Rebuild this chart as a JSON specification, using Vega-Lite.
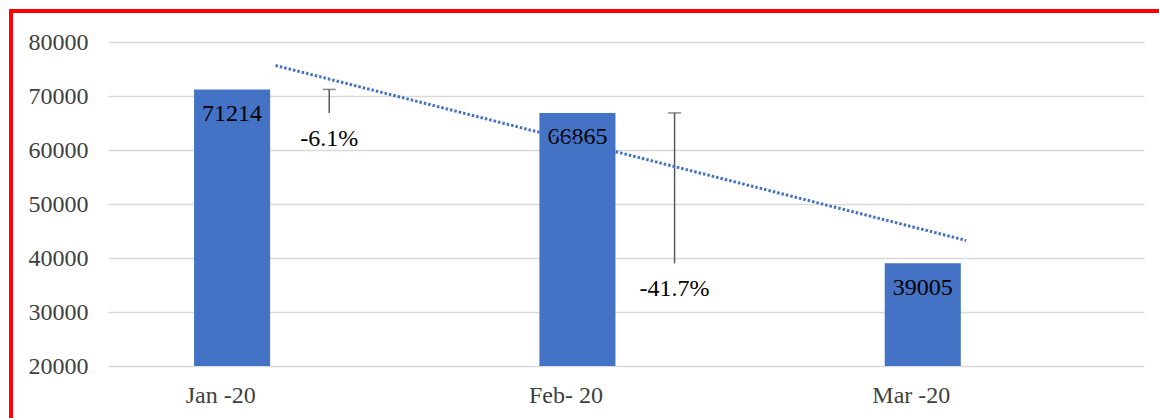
{
  "$schema": "https://vega.github.io/schema/vega-lite/v6.json",
  "width": 1152,
  "height": 411,
  "autosize": {"type": "none"},
  "padding": {"left": 11, "top": 11, "right": -4, "bottom": -4},
  "background": "white",
  "config": {
    "view": {"stroke": "#ff0000", "strokeWidth": 4},
    "font": "Liberation Serif"
  },
  "data": {
    "values": [
      {"month": "Jan -20", "value": 71214, "next": 66865, "change": "-6.1%", "trend": 75650},
      {"month": "Feb- 20", "value": 66865, "next": 39005, "change": "-41.7%", "trend": null},
      {"month": "Mar -20", "value": 39005, "next": null, "change": null, "trend": 43250}
    ]
  },
  "resolve": {"scale": {"xOffset": "independent"}},
  "encoding": {
    "x": {
      "field": "month",
      "type": "nominal",
      "sort": null,
      "title": null,
      "scale": {"domain": ["Jan -20", "Feb- 20", "Mar -20"], "range": [97, 1133], "paddingInner": 0, "paddingOuter": 0},
      "axis": {
        "orient": "bottom",
        "offset": -27,
        "labelPadding": 0,
        "labelBaseline": "middle",
        "labelOffset": -60,
        "labelAngle": 0,
        "ticks": false,
        "domain": false,
        "grid": false,
        "labelFont": "Liberation Serif",
        "labelFontSize": 24,
        "labelColor": "#404040"
      }
    }
  },
  "layer": [
    {
      "layer": [
        {
          "mark": {"type": "bar", "color": "#4472C4"},
          "encoding": {
            "xOffset": {"datum": "bar", "scale": {"domain": ["bar", "err"], "paddingInner": 0.217, "paddingOuter": 0.886}},
            "y": {
              "field": "value",
              "type": "quantitative",
              "title": null,
              "scale": {"domain": [20000, 80000], "range": [355, 31], "zero": false, "nice": false},
              "axis": {
                "values": [20000, 30000, 40000, 50000, 60000, 70000, 80000],
                "offset": -77,
                "labelPadding": 0,
                "ticks": false,
                "domain": false,
                "grid": true,
                "gridColor": "#d9d9d9",
                "gridWidth": 1.5,
                "labelFont": "Liberation Serif",
                "labelFontSize": 24,
                "labelColor": "#404040",
                "format": "d"
              }
            },
            "y2": {"datum": 20000}
          }
        },
        {
          "mark": {"type": "text", "baseline": "middle", "align": "center", "dy": 24.5, "font": "Liberation Serif", "fontSize": 24, "color": "#000000"},
          "encoding": {
            "xOffset": {"datum": "bar"},
            "y": {"field": "value", "type": "quantitative", "title": null},
            "text": {"field": "value", "type": "quantitative", "format": "d"}
          }
        },
        {
          "transform": [{"filter": "datum.next != null"}],
          "mark": {"type": "rule", "color": "#595959", "strokeWidth": 1.5},
          "encoding": {
            "xOffset": {"datum": "err"},
            "y": {"field": "value", "type": "quantitative", "title": null},
            "y2": {"field": "next"}
          }
        },
        {
          "transform": [{"filter": "datum.next != null"}],
          "mark": {"type": "tick", "color": "#595959", "thickness": 1.5, "size": 13, "orient": "horizontal"},
          "encoding": {
            "xOffset": {"datum": "err"},
            "y": {"field": "value", "type": "quantitative", "title": null}
          }
        },
        {
          "transform": [{"filter": "datum.next != null"}],
          "mark": {"type": "text", "baseline": "middle", "align": "center", "dy": 26, "font": "Liberation Serif", "fontSize": 24, "color": "#000000"},
          "encoding": {
            "xOffset": {"datum": "err"},
            "y": {"field": "next", "type": "quantitative", "title": null},
            "text": {"field": "change", "type": "nominal"}
          }
        }
      ]
    },
    {
      "transform": [{"filter": "datum.trend != null"}],
      "mark": {"type": "line", "color": "#4472C4", "strokeWidth": 3, "strokeDash": [2.5, 2], "strokeCap": "butt"},
      "encoding": {
        "xOffset": {"datum": "trend", "scale": {"type": "point", "domain": ["trend"], "padding": 0, "align": 0.485}},
        "y": {"field": "trend", "type": "quantitative", "title": null}
      }
    }
  ]
}
